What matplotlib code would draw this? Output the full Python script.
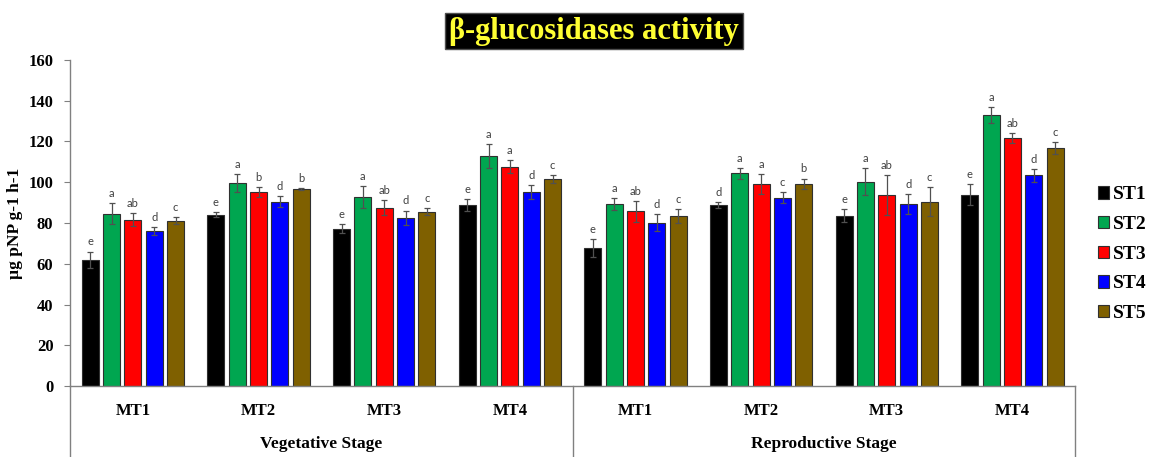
import matplotlib
matplotlib.use("Agg")
import matplotlib.pyplot as plt
import numpy as np
from matplotlib.lines import Line2D

# Data
stages = ["Vegetative Stage", "Reproductive Stage"]
categories = ["MT1", "MT2", "MT3", "MT4", "MT1", "MT2", "MT3", "MT4"]
series = ["ST1", "ST2", "ST3", "ST4", "ST5"]
colors = ["#000000", "#00A650", "#FF0000", "#0000FF", "#7F6000"]

st1 = [62.0, 84.1, 77.2, 88.8, 67.6, 88.8, 83.6, 93.8]
st2 = [84.6, 99.4, 92.8, 112.9, 89.3, 104.4, 100.2, 132.8]
st3 = [81.7, 95.2, 87.6, 107.7, 85.7, 99.3, 93.8, 121.8]
st4 = [76.1, 90.5, 82.5, 95.2, 80.2, 92.5, 89.3, 103.3]
st5 = [81.2, 96.6, 85.6, 101.6, 83.3, 99.3, 90.5, 116.8]

err1 = [4.0, 1.1, 2.3, 2.8, 4.4, 1.3, 3.3, 5.1]
err2 = [5.2, 4.4, 5.4, 6.0, 3.1, 2.6, 6.6, 3.9]
err3 = [3.2, 2.4, 3.6, 3.4, 5.1, 4.9, 9.7, 2.5]
err4 = [2.0, 2.8, 3.6, 3.4, 4.3, 2.5, 4.8, 3.3]
err5 = [1.8, 0.6, 1.6, 2.0, 3.4, 2.5, 7.2, 3.1]

let1 = ["e", "e", "e", "e", "e", "d", "e", "e"]
let2 = ["a", "a", "a", "a", "a", "a", "a", "a"]
let3 = ["ab", "b", "ab", "a", "ab", "a", "ab", "ab"]
let4 = ["d", "d", "d", "d", "d", "c", "d", "d"]
let5 = ["c", "b", "c", "c", "c", "b", "c", "c"]

values = [st1, st2, st3, st4, st5]
errors = [err1, err2, err3, err4, err5]
letters = [let1, let2, let3, let4, let5]

serif = "Liberation Serif"

fig = plt.figure(figsize=(11.5, 4.57), dpi=100)
ax = fig.add_axes([0.061, 0.155, 0.874, 0.714])

x = np.arange(len(categories))
step = 0.17
width = 0.135
for i, (name, vals, errs, lets, col) in enumerate(zip(series, values, errors, letters, colors)):
    pos = x + (i - 2) * step
    ax.bar(pos, vals, width=width, color=col, edgecolor="#303030", linewidth=0.8,
           label=name, zorder=2)
    ax.errorbar(pos, vals, yerr=errs, fmt="none", ecolor="#505050", elinewidth=0.9,
                capsize=2.5, capthick=0.9, zorder=3)
    for p, v, e, t in zip(pos, vals, errs, lets):
        ax.text(p, v + e + 2.0, t, ha="center", va="bottom", fontsize=8,
                family="Lato", color="#404040")

ax.set_xlim(-0.5, len(categories) - 0.5)
ax.set_ylim(0, 160)
ax.set_yticks(np.arange(0, 161, 20))
ax.set_xticks([])
for lab in ax.get_yticklabels():
    lab.set_fontfamily(serif)
    lab.set_fontweight("bold")
    lab.set_fontsize(12)
ax.tick_params(axis="y", direction="out", length=4, width=0.8, color="#808080", pad=8)

for s in ["top", "right"]:
    ax.spines[s].set_visible(False)
for s in ["left", "bottom"]:
    ax.spines[s].set_color("#808080")
    ax.spines[s].set_linewidth(1.0)

ax.set_ylabel("µg pNP g-1 h-1", family=serif, fontweight="bold", fontsize=12.5, labelpad=4)

# Category labels and stage box below the axis
for xi, c in zip(x, categories):
    ax.text(xi, -0.075, c, transform=ax.get_xaxis_transform(), ha="center", va="center",
            family=serif, fontweight="bold", fontsize=12)
ax.text(1.5, -0.178, stages[0], transform=ax.get_xaxis_transform(), ha="center", va="center",
        family=serif, fontweight="bold", fontsize=12.5)
ax.text(5.5, -0.178, stages[1], transform=ax.get_xaxis_transform(), ha="center", va="center",
        family=serif, fontweight="bold", fontsize=12.5)
for xv in [-0.5, 3.5, 7.5]:
    ax.add_line(Line2D([xv, xv], [0, -0.25], transform=ax.get_xaxis_transform(),
                       color="#808080", linewidth=1.0, clip_on=False))

# Title on a black box
fig.text(0.5165, 0.932, "β-glucosidases activity", ha="center", va="center",
         family=serif, fontweight="bold", fontsize=22, color="#FFFF33",
         bbox=dict(boxstyle="square,pad=0.12", facecolor="black", edgecolor="#505050"))

leg = ax.legend(loc="center left", bbox_to_anchor=(1.005, 0.405), frameon=False,
                prop=dict(family=serif, weight="bold", size=14), handlelength=0.6,
                handleheight=0.6, handletextpad=0.2, labelspacing=0.65)

fig.savefig("out.png", dpi=100, facecolor="white")
